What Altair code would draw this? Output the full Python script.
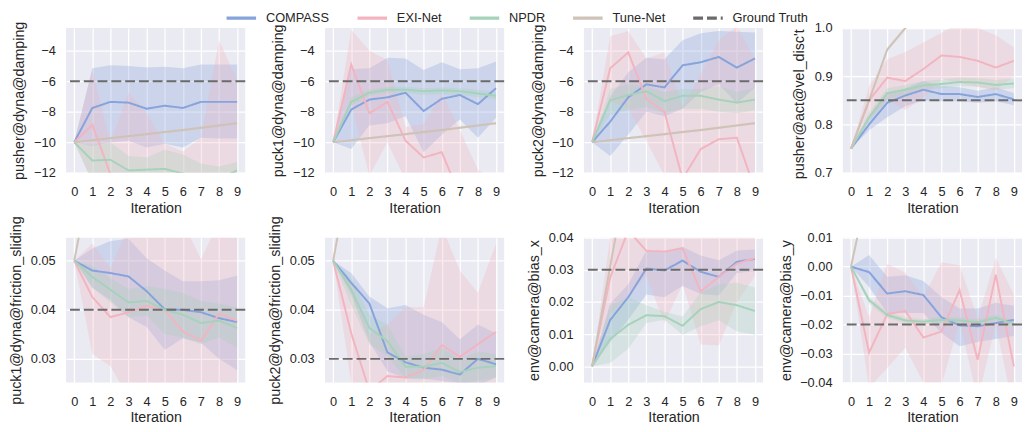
import altair as alt
import pandas as pd

ITER = list(range(10))
METHODS = ["COMPASS", "EXI-Net", "NPDR", "Tune-Net"]
LEGEND_DOMAIN = METHODS + ["Ground Truth"]
LINE_COLORS = ["#86A3DB", "#F2B5C0", "#A6D2BB", "#CFC2B6", "#6B6B6B"]
DASHES = [[1, 0], [1, 0], [1, 0], [1, 0], [10, 4]]

Y_TITLES = ["pusher@dyna@damping", "puck1@dyna@damping", "puck2@dyna@damping",
            "pusher@act@vel_disc't", "puck1@dyna@friction_sliding",
            "puck2@dyna@friction_sliding", "env@camera@bias_x", "env@camera@bias_y"]
Y_DOMAINS = [[-12, -2.5], [-12, -2.5], [-12, -2.5], [0.7, 1.0],
             [0.0252, 0.0547], [0.0252, 0.0547], [-0.005, 0.04], [-0.04, 0.01]]
Y_TICKS = [[-12, -10, -8, -6, -4], [-12, -10, -8, -6, -4], [-12, -10, -8, -6, -4],
           [0.7, 0.8, 0.9, 1.0], [0.03, 0.04, 0.05], [0.03, 0.04, 0.05],
           [0.0, 0.01, 0.02, 0.03, 0.04], [-0.04, -0.03, -0.02, -0.01, 0.0, 0.01]]
Y_FORMATS = [".0f", ".0f", ".0f", ".1f", ".2f", ".2f", ".2f", ".2f"]
GROUND_TRUTH = [-6, -6, -6, 0.85, 0.04, 0.03, 0.03, -0.02]

# ---- panel 1: pusher@dyna@damping
p1_compass = [-10, -7.75, -7.35, -7.4, -7.8, -7.6, -7.75, -7.35, -7.35, -7.35]
p1_compass_lo = [-10, -10.25, -10.0, -9.9, -10.35, -10.1, -10.35, -9.7, -9.75, -9.75]
p1_compass_hi = [-10, -5.15, -4.95, -5.0, -5.1, -5.05, -5.15, -4.9, -4.9, -4.9]
p1_exi = [-10, -8.85, -12.1, -14.5, -15, -15, -15, -15, -15, -15]
p1_exi_lo = [-10, -12.6, -16, -16, -16, -16, -16, -16, -16, -16]
p1_exi_hi = [-10, -5.2, -10.0, -6.7, -8.1, -10.1, -10.6, -9.7, -3.3, -5.9]
p1_npdr = [-10, -11.2, -11.15, -11.85, -11.8, -11.75, -12.05, -12.3, -12.4, -11.85]
p1_npdr_lo = [-10, -12.6, -12.5, -13, -13, -13, -13.3, -13.5, -13.5, -13]
p1_npdr_hi = [-10, -10.2, -10.0, -10.9, -11.0, -10.5, -10.8, -11.4, -11.6, -11.3]
p1_tune = [-10, -9.87, -9.73, -9.6, -9.47, -9.33, -9.2, -9.05, -8.9, -8.75]
p1_tune_lo = [-10, -9.95, -9.81, -9.68, -9.55, -9.41, -9.28, -9.13, -8.98, -8.83]
p1_tune_hi = [-10, -9.79, -9.65, -9.52, -9.39, -9.25, -9.12, -8.97, -8.82, -8.67]

# ---- panel 2: puck1@dyna@damping
p2_compass = [-10, -7.85, -7.2, -7.05, -6.75, -7.95, -7.15, -6.9, -7.5, -6.45]
p2_compass_lo = [-10, -10.45, -8.9, -8.75, -8.3, -10.65, -9.5, -8.5, -9.7, -8.4]
p2_compass_hi = [-10, -5.2, -5.15, -4.45, -4.5, -5.25, -4.75, -5.2, -5.15, -4.7]
p2_exi = [-10, -4.9, -8.1, -7.35, -9.9, -11.0, -10.65, -13.5, -14.5, -15]
p2_exi_lo = [-10, -7.5, -12.2, -10.0, -12.5, -13.5, -14.5, -16, -16, -16]
p2_exi_hi = [-10, -2.6, -4.0, -4.6, -9.0, -8.8, -6.8, -9.2, -11.8, -12.6]
p2_npdr = [-10, -7.35, -6.75, -6.55, -6.55, -6.65, -6.6, -6.65, -6.8, -6.95]
p2_npdr_lo = [-10, -7.6, -6.95, -6.75, -6.75, -6.9, -6.85, -6.9, -7.05, -7.2]
p2_npdr_hi = [-10, -7.05, -6.55, -6.35, -6.35, -6.45, -6.4, -6.45, -6.55, -6.7]
p2_tune = [-10, -9.87, -9.73, -9.6, -9.47, -9.33, -9.2, -9.05, -8.9, -8.75]
p2_tune_lo = [-10, -9.95, -9.81, -9.68, -9.55, -9.41, -9.28, -9.13, -8.98, -8.83]
p2_tune_hi = [-10, -9.79, -9.65, -9.52, -9.39, -9.25, -9.12, -8.97, -8.82, -8.67]

# ---- panel 3: puck2@dyna@damping
p3_compass = [-10, -8.65, -7.05, -6.2, -6.4, -4.95, -4.75, -4.4, -5.1, -4.5]
p3_compass_lo = [-10, -10.9, -9.5, -8.0, -8.3, -7.8, -6.7, -6.2, -7.45, -6.4]
p3_compass_hi = [-10, -7.0, -5.4, -4.45, -4.55, -3.3, -2.85, -2.7, -2.75, -2.8]
p3_exi = [-10, -5.15, -4.1, -7.15, -8.0, -12.4, -10.45, -9.8, -9.7, -13.1]
p3_exi_lo = [-10, -7.3, -7.8, -9.9, -12.2, -15.5, -15, -15, -15, -16]
p3_exi_hi = [-10, -3.05, -2.7, -4.5, -4.1, -7.7, -5.5, -3.3, -2.4, -4.5]
p3_npdr = [-10, -7.25, -6.9, -6.65, -7.3, -6.95, -6.95, -7.2, -7.4, -7.2]
p3_npdr_lo = [-10, -8.2, -7.9, -7.7, -8.1, -7.8, -7.8, -8.0, -8.1, -7.9]
p3_npdr_hi = [-10, -6.5, -6.2, -6.3, -6.7, -6.5, -6.5, -6.3, -6.7, -6.4]
p3_tune = [-10, -9.87, -9.73, -9.6, -9.47, -9.33, -9.2, -9.05, -8.9, -8.75]
p3_tune_lo = [-10, -9.95, -9.81, -9.68, -9.55, -9.41, -9.28, -9.13, -8.98, -8.83]
p3_tune_hi = [-10, -9.79, -9.65, -9.52, -9.39, -9.25, -9.12, -8.97, -8.82, -8.67]

# ---- panel 4: pusher@act@vel_disc't
p4_compass = [0.75, 0.80, 0.845, 0.86, 0.872, 0.863, 0.863, 0.857, 0.863, 0.852]
p4_compass_lo = [0.75, 0.788, 0.815, 0.838, 0.85, 0.848, 0.848, 0.845, 0.848, 0.84]
p4_compass_hi = [0.75, 0.815, 0.865, 0.875, 0.89, 0.88, 0.877, 0.87, 0.877, 0.865]
p4_exi = [0.75, 0.85, 0.897, 0.89, 0.915, 0.943, 0.94, 0.932, 0.918, 0.932]
p4_exi_lo = [0.75, 0.81, 0.85, 0.83, 0.855, 0.895, 0.885, 0.878, 0.87, 0.9]
p4_exi_hi = [0.75, 0.88, 0.935, 0.95, 0.97, 0.99, 1.01, 1.0, 0.985, 0.96]
p4_npdr = [0.75, 0.815, 0.865, 0.872, 0.881, 0.884, 0.888, 0.887, 0.882, 0.885]
p4_npdr_lo = [0.75, 0.805, 0.852, 0.862, 0.872, 0.875, 0.879, 0.878, 0.872, 0.875]
p4_npdr_hi = [0.75, 0.825, 0.875, 0.882, 0.89, 0.893, 0.897, 0.896, 0.892, 0.895]
p4_tune = [0.75, 0.85, 0.955, 1.0, 1.04, 1.09, 1.13, 1.18, 1.22, 1.27]
p4_tune_lo = [0.75, 0.847, 0.951, 0.996, 1.036, 1.086, 1.126, 1.176, 1.216, 1.266]
p4_tune_hi = [0.75, 0.853, 0.959, 1.004, 1.044, 1.094, 1.134, 1.184, 1.224, 1.274]

# ---- panel 5: puck1@dyna@friction_sliding
p5_compass = [0.05, 0.048, 0.0475, 0.0468, 0.0438, 0.0401, 0.040, 0.0395, 0.0383, 0.0375]
p5_compass_lo = [0.05, 0.0445, 0.042, 0.0385, 0.0365, 0.0318, 0.0342, 0.0333, 0.030, 0.0277]
p5_compass_hi = [0.05, 0.0525, 0.054, 0.0545, 0.0505, 0.048, 0.0458, 0.0458, 0.046, 0.047]
p5_exi = [0.05, 0.0426, 0.0385, 0.0395, 0.0408, 0.0399, 0.0356, 0.0337, 0.0392, 0.0378]
p5_exi_lo = [0.05, 0.031, 0.0285, 0.022, 0.018, 0.018, 0.018, 0.018, 0.018, 0.018]
p5_exi_hi = [0.05, 0.0535, 0.0485, 0.057, 0.058, 0.058, 0.058, 0.0503, 0.058, 0.058]
p5_npdr = [0.05, 0.0467, 0.0441, 0.0415, 0.0418, 0.040, 0.039, 0.0373, 0.0378, 0.0363]
p5_npdr_lo = [0.05, 0.0445, 0.0415, 0.0385, 0.0388, 0.035, 0.0343, 0.033, 0.0343, 0.0322]
p5_npdr_hi = [0.05, 0.049, 0.0465, 0.0443, 0.0448, 0.0443, 0.0435, 0.0418, 0.0413, 0.0405]
p5_tune = [0.05, 0.069, 0.088, 0.106, 0.125, 0.144, 0.163, 0.182, 0.2, 0.219]
p5_tune_lo = [0.05, 0.068, 0.087, 0.105, 0.124, 0.143, 0.162, 0.181, 0.199, 0.218]
p5_tune_hi = [0.05, 0.07, 0.089, 0.107, 0.126, 0.145, 0.164, 0.183, 0.201, 0.22]

# ---- panel 6: puck2@dyna@friction_sliding
p6_compass = [0.05, 0.0455, 0.0413, 0.0313, 0.0293, 0.0282, 0.0278, 0.0268, 0.030, 0.0289]
p6_compass_lo = [0.05, 0.043, 0.0335, 0.0275, 0.026, 0.026, 0.0255, 0.025, 0.0245, 0.0262]
p6_compass_hi = [0.05, 0.0475, 0.0427, 0.0403, 0.041, 0.039, 0.0375, 0.034, 0.037, 0.0352]
p6_exi = [0.05, 0.0352, 0.0235, 0.0265, 0.0262, 0.0277, 0.0328, 0.0304, 0.033, 0.0355]
p6_exi_lo = [0.05, 0.025, 0.015, 0.016, 0.018, 0.019, 0.02, 0.02, 0.02, 0.018]
p6_exi_hi = [0.05, 0.0455, 0.035, 0.037, 0.0405, 0.0405, 0.057, 0.048, 0.0435, 0.0535]
p6_npdr = [0.05, 0.0441, 0.0363, 0.0336, 0.0284, 0.0284, 0.0292, 0.0273, 0.0282, 0.0285]
p6_npdr_lo = [0.05, 0.041, 0.033, 0.0305, 0.026, 0.0258, 0.0265, 0.025, 0.0255, 0.0262]
p6_npdr_hi = [0.05, 0.0465, 0.039, 0.037, 0.0305, 0.031, 0.0323, 0.0298, 0.0315, 0.031]
p6_tune = [0.05, 0.07, 0.09, 0.11, 0.13, 0.15, 0.17, 0.19, 0.21, 0.23]
p6_tune_lo = [0.05, 0.069, 0.089, 0.109, 0.129, 0.149, 0.169, 0.189, 0.209, 0.229]
p6_tune_hi = [0.05, 0.071, 0.091, 0.111, 0.131, 0.151, 0.171, 0.191, 0.211, 0.231]

# ---- panel 7: env@camera@bias_x
p7_compass = [0, 0.0144, 0.0215, 0.0304, 0.0298, 0.0329, 0.0294, 0.0278, 0.0325, 0.0334]
p7_compass_lo = [0, 0.0075, 0.0145, 0.0223, 0.0215, 0.025, 0.0225, 0.022, 0.029, 0.0296]
p7_compass_hi = [0, 0.0195, 0.0255, 0.036, 0.0356, 0.0372, 0.0345, 0.033, 0.036, 0.0363]
p7_exi = [0, 0.0276, 0.0423, 0.0359, 0.0357, 0.0367, 0.0233, 0.0278, 0.0319, 0.0337]
p7_exi_lo = [0, 0.016, 0.022, 0.028, 0.0134, 0.0255, 0.0068, 0.0065, 0.02, 0.028]
p7_exi_hi = [0, 0.04, 0.052, 0.045, 0.045, 0.046, 0.04, 0.043, 0.042, 0.04]
p7_npdr = [0, 0.0085, 0.0129, 0.0159, 0.0156, 0.0126, 0.0178, 0.02, 0.019, 0.0172]
p7_npdr_lo = [0, 0.001, 0.0055, 0.0135, 0.0145, 0.0098, 0.0125, 0.0143, 0.0108, 0.0098]
p7_npdr_hi = [0, 0.019, 0.0215, 0.019, 0.017, 0.0155, 0.023, 0.0255, 0.026, 0.0245]
p7_tune = [0, 0.031, 0.062, 0.093, 0.124, 0.155, 0.186, 0.217, 0.248, 0.279]
p7_tune_lo = [0, 0.03, 0.061, 0.092, 0.123, 0.154, 0.185, 0.216, 0.247, 0.278]
p7_tune_hi = [0, 0.032, 0.063, 0.094, 0.125, 0.156, 0.187, 0.218, 0.249, 0.28]

# ---- panel 8: env@camera@bias_y
p8_compass = [0, -0.0019, -0.0093, -0.0085, -0.0098, -0.0175, -0.0203, -0.0206, -0.0195, -0.0184]
p8_compass_lo = [0, -0.007, -0.016, -0.016, -0.016, -0.023, -0.0275, -0.026, -0.025, -0.024]
p8_compass_hi = [0, 0.004, -0.0035, -0.003, -0.005, -0.0105, -0.0145, -0.0145, -0.0125, -0.0135]
p8_exi = [0, -0.0297, -0.0164, -0.0153, -0.0245, -0.0224, -0.0081, -0.0322, -0.0028, -0.0345]
p8_exi_lo = [0, -0.042, -0.035, -0.028, -0.04, -0.041, -0.019, -0.046, -0.02, -0.05]
p8_exi_hi = [0, -0.0175, 0.001, -0.002, -0.0105, 0.0015, 0.0005, -0.018, 0.003, -0.0095]
p8_npdr = [0, -0.0116, -0.0167, -0.0186, -0.019, -0.0184, -0.0186, -0.0192, -0.0177, -0.0198]
p8_npdr_lo = [0, -0.0128, -0.0177, -0.0196, -0.0199, -0.0194, -0.0196, -0.0202, -0.0188, -0.0208]
p8_npdr_hi = [0, -0.0104, -0.0157, -0.0176, -0.0181, -0.0174, -0.0176, -0.0182, -0.0166, -0.0188]
p8_tune = [0, 0.029, 0.058, 0.087, 0.116, 0.145, 0.174, 0.203, 0.232, 0.261]
p8_tune_lo = [0, 0.028, 0.057, 0.086, 0.115, 0.144, 0.173, 0.202, 0.231, 0.26]
p8_tune_hi = [0, 0.03, 0.059, 0.088, 0.117, 0.146, 0.175, 0.204, 0.233, 0.262]

PANEL_SERIES = [
    [(p1_compass, p1_compass_lo, p1_compass_hi), (p1_exi, p1_exi_lo, p1_exi_hi),
     (p1_npdr, p1_npdr_lo, p1_npdr_hi), (p1_tune, p1_tune_lo, p1_tune_hi)],
    [(p2_compass, p2_compass_lo, p2_compass_hi), (p2_exi, p2_exi_lo, p2_exi_hi),
     (p2_npdr, p2_npdr_lo, p2_npdr_hi), (p2_tune, p2_tune_lo, p2_tune_hi)],
    [(p3_compass, p3_compass_lo, p3_compass_hi), (p3_exi, p3_exi_lo, p3_exi_hi),
     (p3_npdr, p3_npdr_lo, p3_npdr_hi), (p3_tune, p3_tune_lo, p3_tune_hi)],
    [(p4_compass, p4_compass_lo, p4_compass_hi), (p4_exi, p4_exi_lo, p4_exi_hi),
     (p4_npdr, p4_npdr_lo, p4_npdr_hi), (p4_tune, p4_tune_lo, p4_tune_hi)],
    [(p5_compass, p5_compass_lo, p5_compass_hi), (p5_exi, p5_exi_lo, p5_exi_hi),
     (p5_npdr, p5_npdr_lo, p5_npdr_hi), (p5_tune, p5_tune_lo, p5_tune_hi)],
    [(p6_compass, p6_compass_lo, p6_compass_hi), (p6_exi, p6_exi_lo, p6_exi_hi),
     (p6_npdr, p6_npdr_lo, p6_npdr_hi), (p6_tune, p6_tune_lo, p6_tune_hi)],
    [(p7_compass, p7_compass_lo, p7_compass_hi), (p7_exi, p7_exi_lo, p7_exi_hi),
     (p7_npdr, p7_npdr_lo, p7_npdr_hi), (p7_tune, p7_tune_lo, p7_tune_hi)],
    [(p8_compass, p8_compass_lo, p8_compass_hi), (p8_exi, p8_exi_lo, p8_exi_hi),
     (p8_npdr, p8_npdr_lo, p8_npdr_hi), (p8_tune, p8_tune_lo, p8_tune_hi)],
]

# layout / style (not data)
TITLE_EXTENT = [38, 38, 37, 35, 41, 41, 41, 48]
TITLE_Y = [73.5, 73.5, 73.5, 77, 73.5, 73.5, 73.5, 73.5]
FONT = "Liberation Sans"
TEXT = "#262626"

color_scale = alt.Scale(domain=LEGEND_DOMAIN, range=LINE_COLORS)
fill_scale = alt.Scale(domain=METHODS, range=LINE_COLORS[:4])
dash_scale = alt.Scale(domain=LEGEND_DOMAIN, range=DASHES)
legend = alt.Legend(title=None, orient="none", legendX=171, legendY=-17,
                    direction="horizontal", columns=5,
                    symbolType="M-3,0L3,0", symbolSize=100,
                    symbolStrokeWidth=3.3, labelFontSize=13,
                    labelFont=FONT, labelColor=TEXT, labelOffset=18,
                    columnPadding=21, padding=0)

x_enc = alt.X("iteration:Q",
              scale=alt.Scale(domain=[-0.45, 9.45], nice=False, zero=False),
              axis=alt.Axis(values=ITER, format="d", title="Iteration",
                            labelPadding=13, titlePadding=3,
                            minExtent=26, maxExtent=26))

panels = []
for i in range(8):
    rows = []
    for m, (mean, lo, hi) in zip(METHODS, PANEL_SERIES[i]):
        for it in ITER:
            rows.append({"iteration": it, "method": m, "mean": mean[it],
                         "lo": lo[it], "hi": hi[it]})
    df = pd.DataFrame(rows)
    gt_df = pd.DataFrame({"gt": [GROUND_TRUTH[i]], "method": ["Ground Truth"]})

    y_scale = alt.Scale(domain=Y_DOMAINS[i], nice=False, zero=False)
    y_axis = alt.Axis(values=Y_TICKS[i], format=Y_FORMATS[i], labelPadding=11,
                      titlePadding=2, minExtent=TITLE_EXTENT[i],
                      maxExtent=TITLE_EXTENT[i], titleY=TITLE_Y[i])

    band = alt.Chart(df).mark_area(clip=True, opacity=0.3).encode(
        x=x_enc,
        y=alt.Y("lo:Q", scale=y_scale, axis=y_axis, title=Y_TITLES[i]),
        y2="hi:Q",
        fill=alt.Fill("method:N", scale=fill_scale, legend=None),
    )
    line = alt.Chart(df).mark_line(clip=True, strokeWidth=2).encode(
        x=x_enc,
        y=alt.Y("mean:Q", scale=y_scale, axis=y_axis, title=Y_TITLES[i]),
        color=alt.Color("method:N", scale=color_scale, legend=legend),
        strokeDash=alt.StrokeDash("method:N", scale=dash_scale, legend=legend),
    )
    gt = alt.Chart(gt_df).mark_rule(strokeWidth=2).encode(
        y=alt.Y("gt:Q", scale=y_scale, axis=y_axis, title=Y_TITLES[i]),
        color=alt.Color("method:N", scale=color_scale, legend=legend),
        strokeDash=alt.StrokeDash("method:N", scale=dash_scale, legend=legend),
    )
    panels.append(alt.layer(band, line, gt).properties(width=182, height=147))

chart = alt.concat(*panels, columns=4, bounds="flush",
                   spacing={"row": 66, "column": 81}).properties(
    padding={"left": 0, "top": 0, "right": 0, "bottom": 0}
).configure_view(
    fill="#EAEAF2", strokeWidth=0
).configure_axis(
    domain=False, ticks=False, tickSize=0, grid=True, gridColor="#FFFFFF",
    gridWidth=1.3, labelFont=FONT, labelFontSize=13, labelColor=TEXT,
    titleFont=FONT, titleFontSize=14.5, titleFontWeight="normal",
    titleColor=TEXT
).configure_legend(
    labelFont=FONT
)

chart.save("out.html", embed_options={"renderer": "svg", "actions": False})
